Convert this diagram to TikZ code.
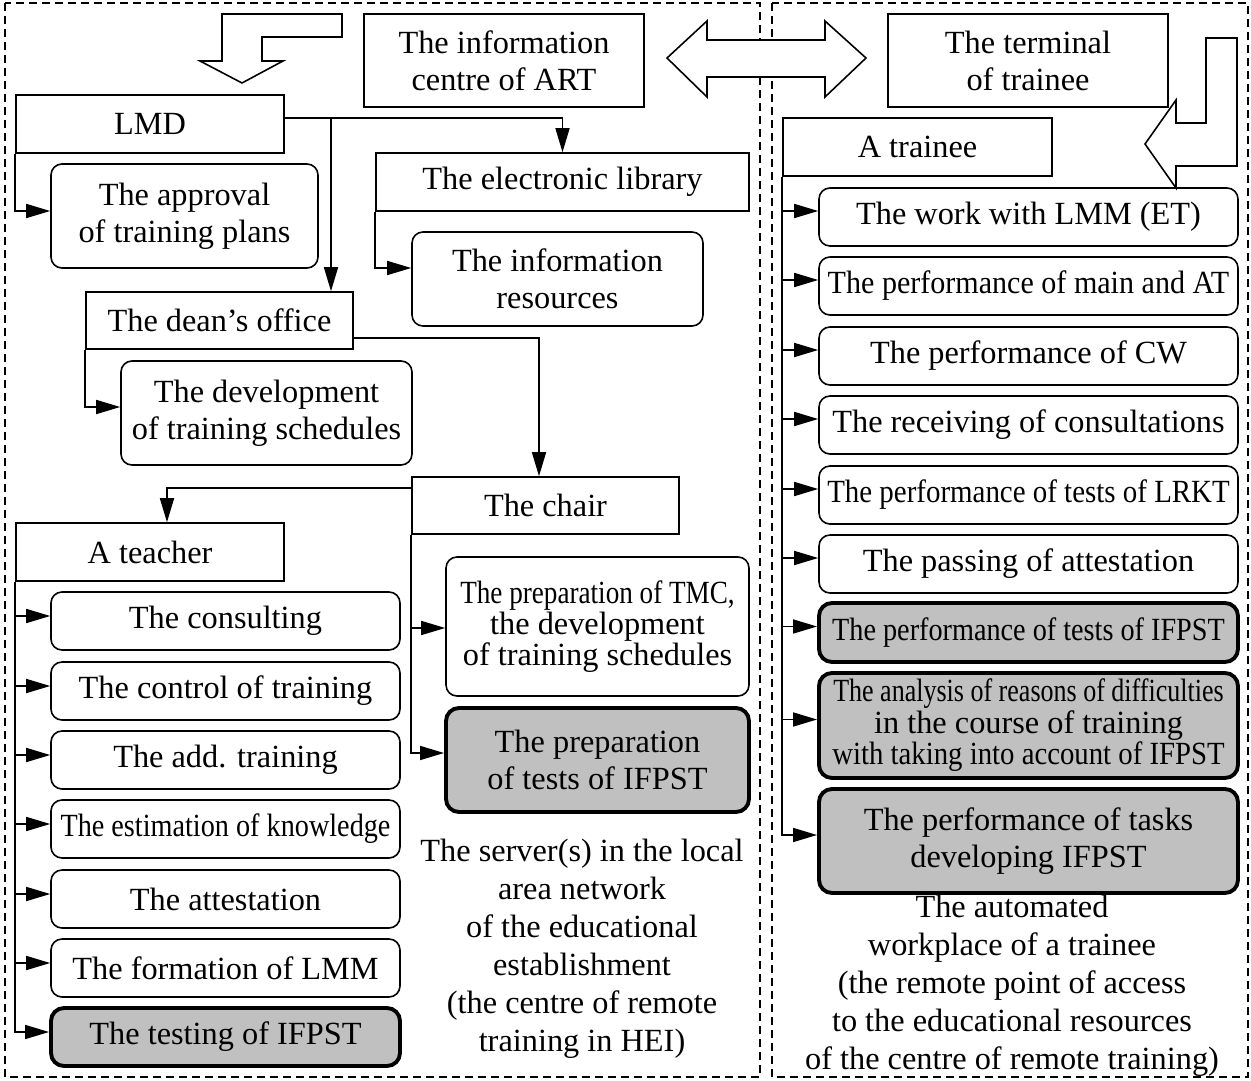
\documentclass[tikz,border=0pt]{standalone}
\usepackage{fontspec}
\setmainfont{Liberation Serif}
\usepackage{graphicx}
\usetikzlibrary{arrows.meta}
\definecolor{boxgray}{RGB}{192,192,192}
\newcommand{\cnd}[2]{\scalebox{#1}[1]{#2}}
\begin{document}
\begin{tikzpicture}[x=0.02cm,y=-0.02cm,
  every node/.style={font=\fontsize{18.4}{21}\selectfont, inner sep=0pt, align=center},
  wh/.style 2 args={minimum width=#1*0.02cm, minimum height=#2*0.02cm},
  sq/.style={draw, line width=0.9pt, rectangle},
  rb/.style={draw, line width=0.9pt, rounded corners=0.22cm},
  gb/.style={draw, line width=2.2pt, rounded corners=0.26cm, fill=boxgray},
  con/.style={line width=0.9pt},
  arr/.style={con, -{Triangle[length=0.48cm,width=0.28cm]}},
  frame/.style={line width=0.7pt, dash pattern=on 0.16cm off 0.1cm},
  blk/.style={draw, line width=0.9pt, fill=white, line join=miter},
]
\useasboundingbox (0,0) rectangle (1251,1081);
\fill[white] (0,0) rectangle (1251,1081);

% frames
\draw[frame] (5,3) rectangle (760,1077);
\draw[frame] (772,3) rectangle (1248,1077);

% block arrows
\draw[blk] (222,14)--(342,14)--(342,37)--(262,37)--(262,61)--(283,61)--(242,83)--(200,61)--(222,61)--cycle;
\draw[blk] (667,58)--(707,21)--(707,40)--(825,40)--(825,21)--(866,58)--(825,97)--(825,77)--(707,77)--(707,97)--cycle;
\draw[blk] (1206,38)--(1237,38)--(1237,166)--(1176,166)--(1176,188)--(1145,144)--(1176,100)--(1176,123)--(1206,123)--cycle;

% top boxes
\node[sq, wh={280}{93}] (info) at (504,60.5) {The information\\centre of ART};
\node[sq, wh={280}{93}] (term) at (1028,60.5) {The terminal\\of trainee};

% left column
\node[sq, wh={268}{58}] (lmd) at (150,124) {LMD};
\node[sq, wh={373}{58}] (elib) at (562.5,182) {The electronic library};
\node[rb, wh={267}{104}] (appr) at (184.5,216) {The approval\\of training plans};
\node[rb, wh={291}{94}] (inres) at (557.5,279) {The information\\resources};
\node[sq, wh={267}{57}] (dean) at (219.5,320.5) {The dean’s office};
\node[rb, wh={291}{104}] (dev) at (266.5,413) {The development\\of training schedules};
\node[sq, wh={267}{57}] (chair) at (545.5,505.5) {The chair};
\node[sq, wh={268}{58}] (teacher) at (150,552) {A teacher};
\node[rb, wh={303}{139}, font=\fontsize{18.4}{17.6}\selectfont] (tmc) at (597.5,626.5) {\cnd{0.84}{The preparation of TMC,}\\the development\\of training schedules};
\node[gb, wh={303}{104}] (prept) at (597.5,760) {The preparation\\of tests of IFPST};

\node[rb, wh={349}{58}] (t1) at (225.5,621) {The consulting};
\node[rb, wh={349}{58}] (t2) at (225.5,691) {The control of training};
\node[rb, wh={349}{58}] (t3) at (225.5,760) {The add. training};
\node[rb, wh={349}{58}] (t4) at (225.5,829) {\cnd{0.873}{The estimation of knowledge}};
\node[rb, wh={349}{58}] (t5) at (225.5,899) {The attestation};
\node[rb, wh={349}{58}] (t6) at (225.5,968) {The formation of LMM};
\node[gb, wh={349}{58}] (t7) at (225.5,1037) {The testing of IFPST};

\node[font=\fontsize{18.4}{21.6}\selectfont] (server) at (582,949) {The server(s) in the local\\area network\\of the educational\\establishment\\(the centre of remote\\training in HEI)};

% right column
\node[sq, wh={269}{58}] (trainee) at (917.5,147) {A trainee};
\node[rb, wh={419}{58}] (r1) at (1028.5,217) {The work with LMM (ET)};
\node[rb, wh={419}{58}] (r2) at (1028.5,286) {\cnd{0.93}{The performance of main and AT}};
\node[rb, wh={419}{58}] (r3) at (1028.5,356) {The performance of CW};
\node[rb, wh={419}{58}] (r4) at (1028.5,425) {The receiving of consultations};
\node[rb, wh={419}{58}] (r5) at (1028.5,495) {\cnd{0.895}{The performance of tests of LRKT}};
\node[rb, wh={419}{58}] (r6) at (1028.5,564) {The passing of attestation};
\node[gb, wh={419}{59}] (r7) at (1028.5,632.5) {\cnd{0.873}{The performance of tests of IFPST}};
\node[gb, wh={419}{105}, font=\fontsize{18.4}{16.5}\selectfont] (r8) at (1028.5,725.5) {\cnd{0.805}{The analysis of reasons of difficulties}\\in the course of training\\\cnd{0.89}{with taking into account of IFPST}};
\node[gb, wh={419}{104}] (r9) at (1028.5,841) {The performance of tasks\\developing IFPST};

\node[font=\fontsize{18.4}{21.6}\selectfont] (auto) at (1012,986) {The automated\\workplace of a trainee\\(the remote point of access\\to the educational resources\\of the centre of remote training)};

% connectors
\coordinate (j1) at (331,118);
\draw[arr] ([yshift=0.12cm]lmd.east) -| (elib.north);
\draw[arr] (j1) -- (j1 |- dean.north);
\draw[arr] (lmd.south west) |- ([yshift=0.1cm]appr.west);
\draw[arr] (elib.south west) |- ([yshift=0.22cm]inres.west);
\draw[arr] (dean.south west) |- ([yshift=0.12cm]dev.west);
\draw[arr] ([yshift=-0.35cm]dean.east) -| ([xshift=-0.13cm]chair.north);
\draw[arr] ([yshift=0.35cm]chair.west) -| ([xshift=0.34cm]teacher.north);
\draw[arr] (chair.south west) |- ([yshift=-0.03cm]tmc.west);
\draw[arr] (chair.south west) |- ([yshift=0.14cm]prept.west);

\foreach \n in {t1,t2,t3,t4,t5,t6,t7}
  \draw[arr] (teacher.south west) |- ([yshift=0.1cm]\n.west);
\foreach \n in {r1,r2,r3,r4,r5,r6,r7,r8,r9}
  \draw[arr] (trainee.south west) |- ([yshift=0.12cm]\n.west);
\end{tikzpicture}
\end{document}
